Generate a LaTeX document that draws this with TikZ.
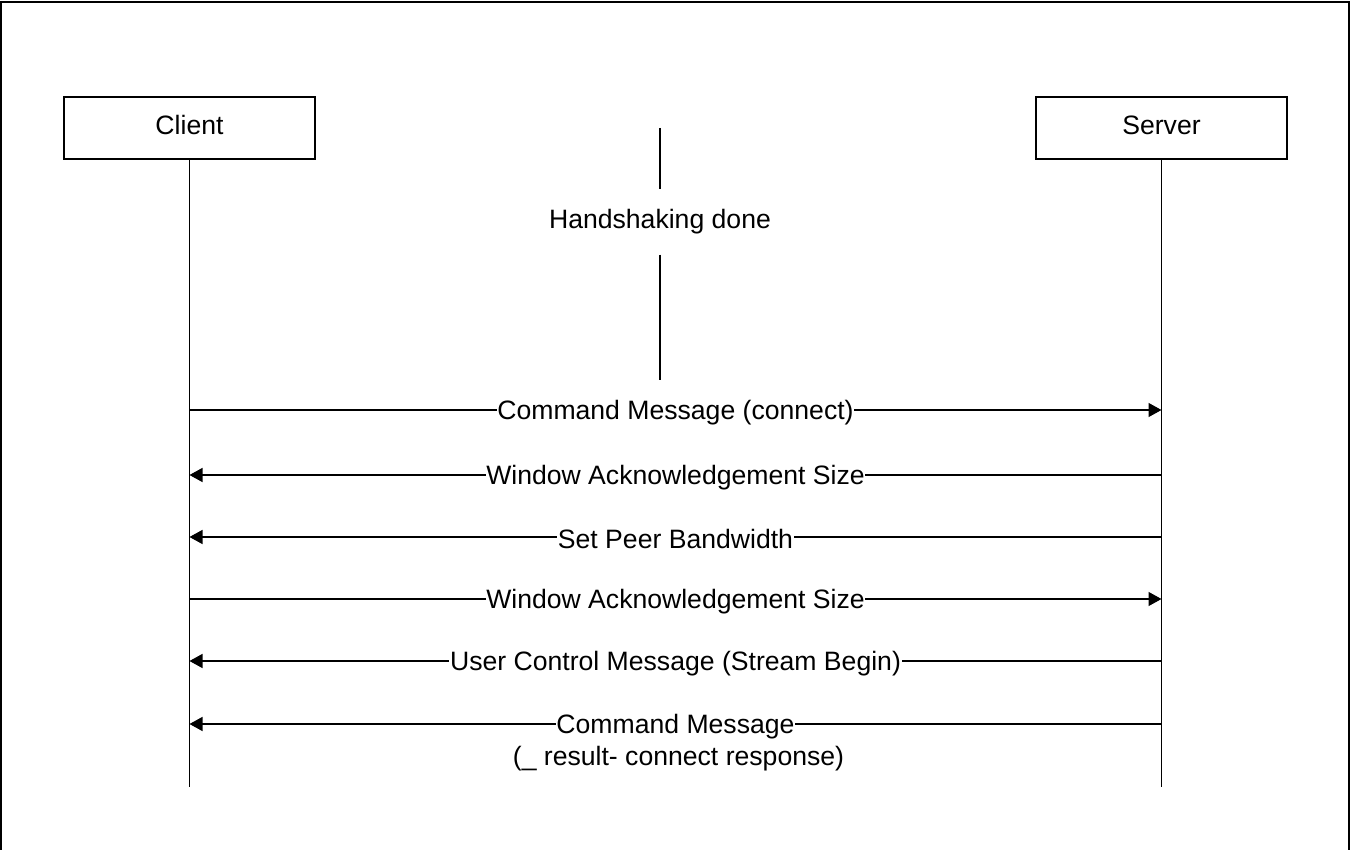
\documentclass[tikz,border=0pt]{standalone}
\usepackage{fontspec}
\setmainfont{Liberation Sans}
\usetikzlibrary{arrows.meta,positioning}

\begin{document}
\begin{tikzpicture}[x=0.5pt,y=-0.5pt,line width=0.7pt,
  every node/.style={font=\fontsize{13.3}{15.5}\selectfont},
  actor/.style={draw,minimum width=125.5pt,minimum height=31pt,inner sep=0pt,
    text height=1.5ex,text depth=0.25ex},
  msg/.style={-{Triangle[length=6.5pt,width=7pt]}},
  lbl/.style={fill=white,inner xsep=0.3pt,inner ysep=1pt,yshift=-1.2pt}]
\useasboundingbox (0,0) rectangle (1351,850);
\draw (1,850) -- (1,2) -- (1349,2) -- (1349,850);
\node[actor] (client) at (189.5,128) {Client};
\node[actor] (server) at (1161.5,128) {Server};
\coordinate (cend) at (189.5,787);
\coordinate (send) at (1161.5,787);
\draw (client) -- (cend);
\draw (server) -- (send);
% handshaking
\coordinate (hstop) at (660,128);
\coordinate (hsbot) at (660,380);
\node[minimum height=32pt,inner sep=0pt] (hs) at (660,222) {Handshaking done};
\draw (hstop) -- (hs) -- (hsbot);
% messages
\foreach \i/\y in {1/410,2/475,3/537,4/599,5/661,6/724} {
  \coordinate (c\i) at (189.5,\y);
  \coordinate (s\i) at (1161.5,\y);
}
\draw[msg] (c1) -- node[lbl] (m1) {Command Message (connect)} (s1);
\draw[msg] (s2) -- node[lbl] (m2) {Window Acknowledgement Size} (c2);
\draw[msg] (s3) -- node[lbl] (m3) {Set Peer Bandwidth} (c3);
\draw[msg] (c4) -- node[lbl] (m4) {Window Acknowledgement Size} (s4);
\draw[msg] (s5) -- node[lbl] (m5) {User Control Message (Stream Begin)} (c5);
\draw[msg] (s6) -- node[lbl] (m6) {Command Message} (c6);
\node[below=-1.5pt of m6,xshift=1.5pt] (m6note) {(\_ result- connect response)};
\end{tikzpicture}
\end{document}
